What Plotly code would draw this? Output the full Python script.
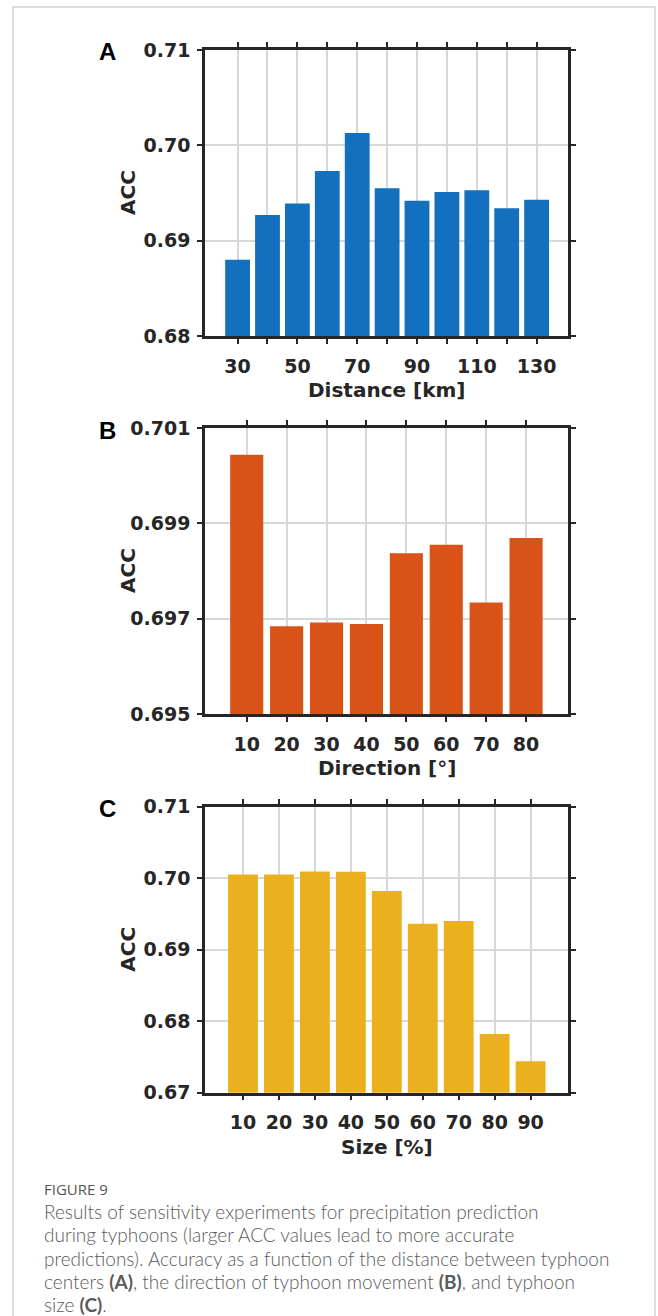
import plotly.graph_objects as go

W, H = 658, 1316

# ---------------- data ----------------
dist_km = [30, 40, 50, 60, 70, 80, 90, 100, 110, 120, 130]
acc_dist = [0.6880, 0.6927, 0.6939, 0.6973, 0.7013, 0.6955, 0.6942, 0.6951, 0.6953, 0.6934, 0.6943]
dist_ticktext = ["30", "", "50", "", "70", "", "90", "", "110", "", "130"]

dir_deg = [10, 20, 30, 40, 50, 60, 70, 80]
acc_dir = [0.70044, 0.69684, 0.69692, 0.69689, 0.69837, 0.69855, 0.69734, 0.69869]
dir_ticktext = ["10", "20", "30", "40", "50", "60", "70", "80"]

size_pct = [10, 20, 30, 40, 50, 60, 70, 80, 90]
acc_size = [0.70051, 0.70051, 0.70093, 0.70089, 0.69822, 0.69364, 0.69402, 0.67822, 0.67439]
size_ticktext = ["10", "20", "30", "40", "50", "60", "70", "80", "90"]

acc_ticks_a = [0.68, 0.69, 0.70, 0.71]
acc_ticks_b = [0.695, 0.697, 0.699, 0.701]
acc_ticks_c = [0.67, 0.68, 0.69, 0.70, 0.71]

caption_lines = [
    "Results of sensitivity experiments for precipitation prediction",
    "during typhoons (larger ACC values lead to more accurate",
    "predictions). Accuracy as a function of the distance between typhoon",
    "centers <b>(A)</b>, the direction of typhoon movement <b>(B)</b>, and typhoon",
    "size <b>(C)</b>.",
]

# ---------------- layout helpers ----------------
def px_x(x):
    return x / W

def px_y(y):
    return 1 - y / H

AX_L, AX_R = 205, 568
panels = [
    (50, 336, [19.1, 140.5], [0.68, 0.71], "#1270BE", dist_km, acc_dist, dist_ticktext,
     acc_ticks_a, ".2f", "Distance [km]", "A"),
    (428, 714, [-0.45, 90.5], [0.695, 0.701], "#D95319", dir_deg, acc_dir, dir_ticktext,
     acc_ticks_b, ".3f", "Direction [°]", "B"),
    (806.7, 1092.7, [-0.57, 100.4], [0.67, 0.71], "#EBB01E", size_pct, acc_size, size_ticktext,
     acc_ticks_c, ".2f", "Size [%]", "C"),
]

TICK_FONT = dict(family="DejaVu Sans", size=19, color="#262626", weight="bold")
TITLE_FONT = dict(family="DejaVu Sans", size=20, color="#262626", weight="bold")
AXIS_COLOR = "#262626"
GRID_COLOR = "#D8D8D8"

fig = go.Figure()
annotations = []
layout_axes = {}

for i, (top, bot, xr, yr, col, xv, yv, tt, yt, yfmt, xtitle, letter) in enumerate(panels):
    n = "" if i == 0 else str(i + 1)
    fig.add_trace(go.Bar(
        x=xv, y=yv, marker=dict(color=col, line=dict(width=0)),
        xaxis="x" + n, yaxis="y" + n, width=[(xv[1] - xv[0]) * 0.83] * len(xv),
        showlegend=False, hoverinfo="x+y",
    ))
    common = dict(
        showline=True, linecolor=AXIS_COLOR, linewidth=2.5, mirror="ticks",
        ticks="outside", ticklen=5, tickwidth=2, tickcolor=AXIS_COLOR,
        showgrid=True, gridcolor=GRID_COLOR, gridwidth=2,
        zeroline=False, tickfont=TICK_FONT, fixedrange=True, automargin=False,
    )
    layout_axes["xaxis" + n] = dict(
        common, domain=[px_x(AX_L), px_x(AX_R)], range=xr, anchor="y" + n,
        tickmode="array", tickvals=xv, ticktext=tt, ticklabelstandoff=6,
    )
    layout_axes["yaxis" + n] = dict(
        common, domain=[px_y(bot), px_y(top)], range=yr, anchor="x" + n,
        tickmode="array", tickvals=yt, tickformat=yfmt, ticklabelstandoff=3,
    )
    annotations.append(dict(
        text=xtitle, x=px_x((AX_L + AX_R) / 2), y=px_y(bot + 54),
        xref="paper", yref="paper", showarrow=False, xanchor="center", yanchor="middle",
        font=TITLE_FONT,
    ))
    annotations.append(dict(
        text="ACC", x=px_x(128), y=px_y((top + bot) / 2), textangle=-90,
        xref="paper", yref="paper", showarrow=False, xanchor="center", yanchor="middle",
        font=TITLE_FONT,
    ))
    annotations.append(dict(
        text="<b>%s</b>" % letter, x=px_x(107), y=px_y(top + 2),
        xref="paper", yref="paper", showarrow=False, xanchor="center", yanchor="middle",
        font=dict(family="Liberation Sans", size=24, color="#000000"),
    ))

# caption
annotations.append(dict(
    text="FIGURE 9", x=px_x(43), y=px_y(1189), xref="paper", yref="paper",
    showarrow=False, xanchor="left", yanchor="middle", borderpad=0,
    font=dict(family="Open Sans", size=15, color="#555555"),
))
line_centers = [1211, 1234.5, 1258, 1281, 1304]
for txt, yc in zip(caption_lines, line_centers):
    annotations.append(dict(
        text=txt, x=px_x(43), y=px_y(yc), xref="paper", yref="paper",
        showarrow=False, xanchor="left", yanchor="middle", align="left", borderpad=0,
        font=dict(family="Lato", size=19, color="#5A5A5A", weight=300),
    ))

fig.update_layout(
    width=W, height=H, margin=dict(l=0, r=0, t=0, b=0, pad=0, autoexpand=False),
    paper_bgcolor="white", plot_bgcolor="white",
    bargap=0.17, annotations=annotations,
    shapes=[dict(type="rect", xref="paper", yref="paper",
                 x0=px_x(13), x1=px_x(655), y0=px_y(1330), y1=px_y(7),
                 line=dict(color="#D4D4D4", width=1.5), fillcolor="rgba(0,0,0,0)", layer="below")],
    **layout_axes,
)

fig.write_html("out.html", config={"displayModeBar": False},
               post_script="document.body.style.margin='0';document.body.style.overflow='hidden';")
